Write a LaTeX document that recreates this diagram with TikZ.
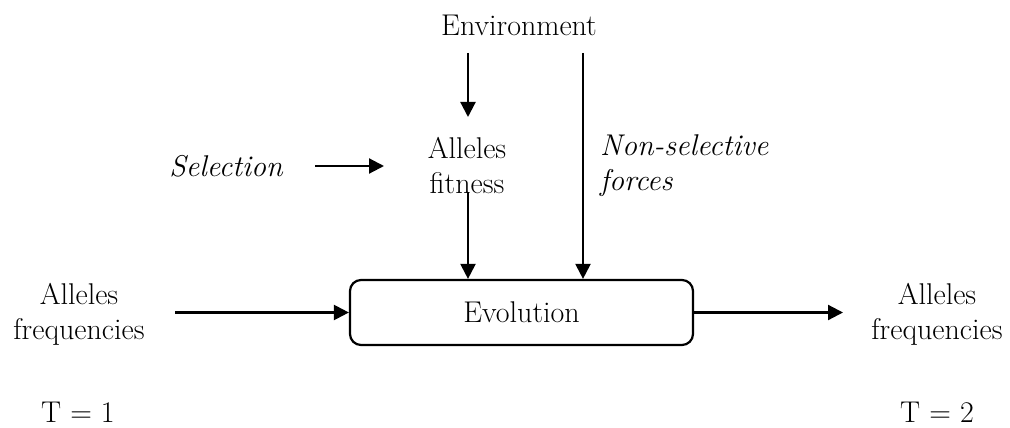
\documentclass[tikz,border=0pt]{standalone}
\usetikzlibrary{arrows.meta}
\begin{document}
\begin{tikzpicture}[x=1pt,y=-1pt,
  lbl/.style={font=\fontsize{30}{35}\selectfont, align=center, inner sep=0pt},
  ital/.style={lbl, font=\fontsize{30}{35}\selectfont\itshape},
  conn/.style={line width=2.2pt, -{Triangle[length=15pt,width=15pt]}},
  procbox/.style={draw, line width=2.2pt, rounded corners=11pt, minimum width=343pt, minimum height=65pt, inner sep=0pt}]
  \useasboundingbox (0,0) rectangle (1010,428);

  % nodes
  \node[lbl] (env) at (519,25) {Environment};
  \node[lbl] (fit) at (467,166) {Alleles\\fitness};
  \node[ital] (sel) at (226,166) {Selection};
  \node[ital, anchor=west, align=left] (nsf) at (600,166) {Non-selective\\forces};
  \node[procbox, lbl] (evo) at (521.5,312.5) {Evolution};
  \node[lbl] (fin) at (79,314) {Alleles\\frequencies};
  \node[lbl] (fout) at (937,314) {Alleles\\frequencies};
  \node[lbl] (t1) at (78,412) {T = 1};
  \node[lbl] (t2) at (937,412) {T = 2};

  % free ends of the connectors
  \coordinate (envA) at (468,53);
  \coordinate (envB) at (583,53);
  \coordinate (selA) at (315,166);
  \coordinate (selB) at (384,166);
  \coordinate (fitA) at (468,192);
  \coordinate (inA) at (175,312.5);
  \coordinate (outB) at (843,312.5);

  % connectors
  \draw[conn] (envA) -- (envA |- 0,117);
  \draw[conn] (selA) -- (selB);
  \draw[conn] (fitA) -- (fitA |- evo.north);
  \draw[conn] (envB) -- (envB |- evo.north);
  \draw[conn] (inA) -- (evo.west);
  \draw[conn] (evo.east) -- (outB);
\end{tikzpicture}
\end{document}
